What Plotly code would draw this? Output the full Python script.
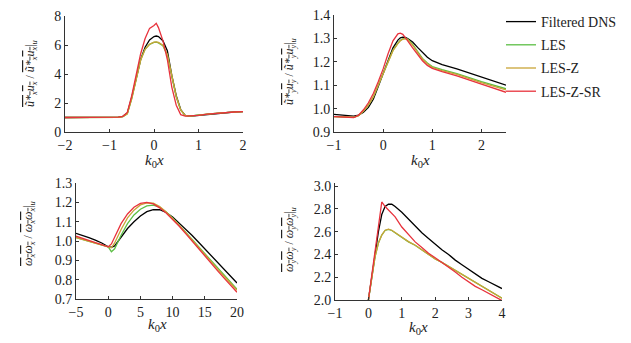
import plotly.graph_objects as go

# page body adds an 8px margin, so figure coordinates are offset by it
OFF = 8
W, H = 631 - OFF, 343 - OFF

# ---------------- data ----------------
series_names = ["Filtered DNS", "LES", "LES-Z", "LES-Z-SR"]
series_colors = ["#000000", "#5cbf45", "#c9a437", "#e8323c"]

# panel (a): u_x u_x
x_a = [-2, -1.5, -1, -0.8, -0.7, -0.6, -0.5, -0.4, -0.3, -0.2, -0.1, 0, 0.05, 0.1,
       0.2, 0.3, 0.4, 0.5, 0.6, 0.7, 0.8, 0.9, 1.0, 1.2, 1.5, 1.8, 2.0]
a_dns = [1.0, 1.0, 1.0, 1.02, 1.08, 1.3, 2.4, 3.8, 5.0, 5.85, 6.35, 6.58, 6.62, 6.58,
         6.3, 5.6, 3.9, 2.5, 1.55, 1.15, 1.1, 1.12, 1.15, 1.23, 1.32, 1.38, 1.41]
a_les = [1.0, 1.0, 1.0, 1.01, 1.06, 1.25, 2.3, 3.7, 5.0, 5.7, 6.05, 6.18, 6.2, 6.15,
         5.95, 5.3, 3.8, 2.4, 1.5, 1.15, 1.1, 1.12, 1.15, 1.23, 1.32, 1.38, 1.41]
a_lesz = [1.0, 1.0, 1.0, 1.01, 1.06, 1.25, 2.3, 3.7, 4.95, 5.7, 6.05, 6.2, 6.22, 6.18,
          5.98, 5.35, 3.85, 2.45, 1.52, 1.15, 1.1, 1.12, 1.15, 1.23, 1.32, 1.38, 1.41]
a_sr = [1.0, 1.0, 1.0, 1.02, 1.08, 1.35, 2.5, 3.95, 5.4, 6.45, 7.15, 7.35, 7.5, 7.2,
        6.3, 5.0, 3.1, 1.85, 1.2, 1.1, 1.1, 1.12, 1.15, 1.23, 1.32, 1.38, 1.41]

# panel (b): u_y u_y
x_b = [-1, -0.8, -0.6, -0.5, -0.4, -0.3, -0.2, -0.1, 0, 0.1, 0.2, 0.3, 0.35, 0.4, 0.45,
       0.5, 0.6, 0.7, 0.8, 0.9, 1.0, 1.2, 1.5, 2.0, 2.5]
b_dns = [0.975, 0.972, 0.968, 0.972, 0.985, 1.005, 1.04, 1.095, 1.15, 1.21, 1.26, 1.293,
         1.303, 1.306, 1.305, 1.3, 1.285, 1.262, 1.24, 1.22, 1.205, 1.188, 1.17, 1.135, 1.1]
b_les = [0.966, 0.964, 0.963, 0.97, 0.99, 1.015, 1.05, 1.1, 1.15, 1.205, 1.25, 1.28,
         1.292, 1.298, 1.3, 1.297, 1.275, 1.245, 1.215, 1.195, 1.18, 1.167, 1.15, 1.115, 1.085]
b_lesz = [0.966, 0.964, 0.963, 0.97, 0.99, 1.015, 1.05, 1.1, 1.15, 1.203, 1.248, 1.278,
          1.29, 1.297, 1.299, 1.295, 1.272, 1.242, 1.212, 1.192, 1.177, 1.163, 1.146, 1.111, 1.08]
b_sr = [0.966, 0.964, 0.962, 0.972, 0.995, 1.025, 1.065, 1.115, 1.17, 1.235, 1.29, 1.32,
        1.323, 1.318, 1.305, 1.29, 1.26, 1.23, 1.205, 1.185, 1.172, 1.158, 1.14, 1.105, 1.07]

# panel (c): omega_x omega_x
x_c = [-5, -4, -3, -2, -1, 0, 0.5, 1, 2, 3, 4, 5, 6, 7, 8, 9, 10, 11, 12, 13, 14, 15,
       16, 17, 18, 19, 20]
c_dns = [1.04, 1.03, 1.018, 1.005, 0.99, 0.97, 0.968, 0.975, 1.02, 1.065, 1.1, 1.13,
         1.152, 1.163, 1.162, 1.148, 1.125, 1.095, 1.065, 1.03, 0.995, 0.96, 0.925, 0.89,
         0.855, 0.82, 0.783]
c_les = [1.018, 1.008, 0.998, 0.99, 0.98, 0.97, 0.945, 0.96, 1.03, 1.09, 1.135, 1.165,
         1.182, 1.186, 1.175, 1.15, 1.12, 1.085, 1.048, 1.01, 0.972, 0.935, 0.898, 0.861,
         0.824, 0.787, 0.75]
c_lesz = [1.018, 1.008, 0.998, 0.99, 0.98, 0.97, 0.965, 0.99, 1.06, 1.12, 1.16, 1.187,
          1.198, 1.196, 1.178, 1.15, 1.118, 1.082, 1.045, 1.006, 0.968, 0.93, 0.892, 0.855,
          0.818, 0.781, 0.745]
c_sr = [1.025, 1.014, 1.003, 0.992, 0.981, 0.97, 0.985, 1.02, 1.09, 1.14, 1.175, 1.195,
        1.2, 1.192, 1.172, 1.145, 1.113, 1.078, 1.04, 1.0, 0.96, 0.922, 0.884, 0.846,
        0.808, 0.771, 0.735]

# panel (d): omega_y omega_y
x_d = [0, 0.1, 0.2, 0.3, 0.4, 0.5, 0.6, 0.7, 0.8, 1.0, 1.2, 1.4, 1.6, 1.8, 2.0, 2.2,
       2.4, 2.6, 2.8, 3.0, 3.2, 3.4, 3.6, 3.8, 4.0]
d_dns = [2.0, 2.18, 2.4, 2.6, 2.75, 2.82, 2.84, 2.84, 2.82, 2.77, 2.71, 2.65, 2.59,
         2.54, 2.49, 2.44, 2.4, 2.35, 2.31, 2.27, 2.23, 2.19, 2.16, 2.13, 2.1]
d_les = [2.0, 2.2, 2.38, 2.5, 2.57, 2.61, 2.62, 2.61, 2.59, 2.55, 2.51, 2.48, 2.44,
         2.4, 2.36, 2.33, 2.295, 2.26, 2.225, 2.19, 2.155, 2.12, 2.085, 2.05, 2.015]
d_lesz = [2.0, 2.2, 2.38, 2.5, 2.57, 2.612, 2.622, 2.612, 2.592, 2.552, 2.512, 2.48,
          2.44, 2.4, 2.36, 2.33, 2.295, 2.26, 2.225, 2.19, 2.155, 2.12, 2.085, 2.05, 2.015]
d_sr = [2.0, 2.22, 2.44, 2.65, 2.86, 2.82, 2.79, 2.76, 2.73, 2.64, 2.57, 2.51, 2.46,
        2.41, 2.37, 2.33, 2.29, 2.245, 2.2, 2.16, 2.12, 2.09, 2.06, 2.03, 1.995]

panels = [
    dict(x=x_a, ys=[a_dns, a_les, a_lesz, a_sr], xr=[-2, 2], yr=[0, 8.001],
         xt=[-2, -1, 0, 1, 2], yt=[0, 2, 4, 6, 8], yfmt="d",
         px=(65, 243), py=(16, 132)),
    dict(x=x_b, ys=[b_dns, b_les, b_lesz, b_sr], xr=[-1, 2.5], yr=[0.9, 1.4005],
         xt=[-1, 0, 1, 2], yt=[0.9, 1.0, 1.1, 1.2, 1.3, 1.4], yfmt=".1f",
         px=(334, 506), py=(15, 132)),
    dict(x=x_c, ys=[c_dns, c_les, c_lesz, c_sr], xr=[-5, 20], yr=[0.7, 1.3005],
         xt=[-5, 0, 5, 10, 15, 20], yt=[0.7, 0.8, 0.9, 1.0, 1.1, 1.2, 1.3], yfmt=".1f",
         px=(76, 237), py=(183, 299)),
    dict(x=x_d, ys=[d_dns, d_les, d_lesz, d_sr], xr=[-1, 4], yr=[2.0, 3.03],
         xt=[-1, 0, 1, 2, 3, 4], yt=[2.0, 2.2, 2.4, 2.6, 2.8, 3.0], yfmt=".1f",
         px=(335, 502), py=(182.6, 300)),
]

OV = '<span style="text-decoration:overline">'
ytitles = [
    OV + '<i>ũ*<sub>x</sub>u<sub>x</sub></i></span> / ' + OV + '<i>ũ*<sub>x</sub>u<sub>x</sub></i></span>|<sub><i>u</i></sub>',
    OV + '<i>ũ*<sub>y</sub>u<sub>y</sub></i></span> / ' + OV + '<i>ũ*<sub>y</sub>u<sub>y</sub></i></span>|<sub><i>u</i></sub>',
    OV + '<i>ω<sub>x</sub>ω<sub>x</sub></i></span> / ' + OV + '<i>ω<sub>x</sub>ω<sub>x</sub></i></span>|<sub><i>u</i></sub>',
    OV + '<i>ω<sub>y</sub>ω<sub>y</sub></i></span> / ' + OV + '<i>ω<sub>y</sub>ω<sub>y</sub></i></span>|<sub><i>u</i></sub>',
]
ytitle_pos = [(31, 74), (290, 72), (29, 234), (290, 240)]
xtitle_pos = [(154, 161), (420, 161), (157, 325), (418, 328)]
xtitle_text = "<i>k</i><sub>0</sub><i>x</i>"

FONT = "Liberation Serif"


def fx(px):
    return (px - OFF) / W


def fy(py):
    return 1 - (py - OFF) / H


fig = go.Figure()
layout = dict(
    width=W, height=H,
    margin=dict(l=0, r=0, t=0, b=0, autoexpand=False),
    paper_bgcolor="white", plot_bgcolor="white",
    font=dict(family=FONT, size=14, color="#222"),
    showlegend=True,
    legend=dict(x=fx(501), y=fy(6), xanchor="left", yanchor="top",
                font=dict(family=FONT, size=14, color="#222"),
                tracegroupgap=2, bgcolor="rgba(0,0,0,0)"),
    annotations=[],
)

for i, p in enumerate(panels):
    xa = "x" if i == 0 else f"x{i+1}"
    ya = "y" if i == 0 else f"y{i+1}"
    for k, (name, col, yv) in enumerate(zip(series_names, series_colors, p["ys"])):
        fig.add_trace(go.Scatter(
            x=p["x"], y=yv, mode="lines", name=name,
            line=dict(color=col, width=1.3),
            xaxis=xa, yaxis=ya, showlegend=(i == 0), legendgroup=name,
        ))
    axis_common = dict(showline=True, linecolor="#333", linewidth=1, showgrid=False,
                       zeroline=False, ticks="inside", ticklen=3, tickcolor="#333",
                       automargin=False,
                       tickfont=dict(family=FONT, size=14, color="#222"))
    layout["xaxis" if i == 0 else f"xaxis{i+1}"] = dict(
        axis_common, range=p["xr"], tickvals=p["xt"],
        domain=[fx(p["px"][0]), fx(p["px"][1])], anchor=ya)
    layout["yaxis" if i == 0 else f"yaxis{i+1}"] = dict(
        axis_common, range=p["yr"], tickvals=p["yt"], tickformat=p["yfmt"],
        domain=[fy(p["py"][1]), fy(p["py"][0])], anchor=xa)
    layout["annotations"].append(dict(
        x=fx(xtitle_pos[i][0]), y=fy(xtitle_pos[i][1]), xref="paper", yref="paper",
        xanchor="center", yanchor="middle",
        text=xtitle_text, showarrow=False, font=dict(family=FONT, size=15, color="#222")))
    layout["annotations"].append(dict(
        x=fx(ytitle_pos[i][0]), y=fy(ytitle_pos[i][1]), xref="paper", yref="paper",
        xanchor="center", yanchor="middle",
        text=ytitles[i], showarrow=False, textangle=-90,
        font=dict(family=FONT, size=12, color="#222")))

fig.update_layout(**layout)
fig.write_html("out.html")
